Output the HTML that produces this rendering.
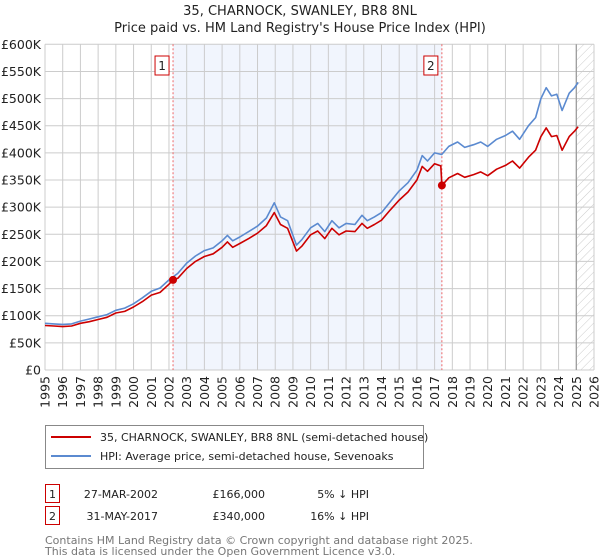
<!DOCTYPE html>
<html><head><meta charset="utf-8">
<style>
body{margin:0;background:#fff;font-family:"Liberation Sans","DejaVu Sans",sans-serif;}
#wrap{position:relative;width:600px;height:560px;overflow:hidden;}
svg text{font-family:"DejaVu Sans","Liberation Sans",sans-serif;}
</style></head>
<body>
<div id="wrap">
<svg id="chart" width="600" height="560"></svg>
</div>
<script>
const years=[1995,1996,1997,1998,1999,2000,2001,2002,2003,2004,2005,2006,2007,2008,2009,2010,2011,2012,2013,2014,2015,2016,2017,2018,2019,2020,2021,2022,2023,2024,2025,2026];
const yTicks=[0,50,100,150,200,250,300,350,400,450,500,550,600];
const yTickLabels=["£0","£50K","£100K","£150K","£200K","£250K","£300K","£350K","£400K","£450K","£500K","£550K","£600K"];
const hpiT=[1995.0,1995.5,1996.0,1996.5,1997.0,1997.5,1998.0,1998.5,1999.0,1999.5,2000.0,2000.5,2001.0,2001.5,2002.0,2002.5,2003.0,2003.5,2004.0,2004.5,2005.0,2005.3,2005.6,2006.0,2006.5,2007.0,2007.5,2007.95,2008.3,2008.7,2009.2,2009.5,2010.0,2010.4,2010.8,2011.2,2011.6,2012.0,2012.5,2012.9,2013.2,2013.6,2014.0,2014.5,2015.0,2015.5,2016.0,2016.3,2016.6,2017.0,2017.4,2017.8,2018.3,2018.7,2019.2,2019.6,2020.0,2020.5,2021.0,2021.4,2021.8,2022.3,2022.7,2023.0,2023.3,2023.6,2023.9,2024.2,2024.6,2024.9,2025.1];
const hpiV=[86,85,84,85,90,94,98,102,110,114,122,133,145,151,166,178,197,210,220,225,238,248,238,245,255,265,280,308,282,275,230,240,262,270,255,275,262,270,268,285,275,282,290,310,330,345,368,395,385,400,397,412,420,410,415,420,412,425,432,440,425,450,465,500,520,505,508,478,510,520,530];
const saleT=[1995.0,1995.5,1996.0,1996.5,1997.0,1997.5,1998.0,1998.5,1999.0,1999.5,2000.0,2000.5,2001.0,2001.5,2002.0,2002.23,2002.5,2003.0,2003.5,2004.0,2004.5,2005.0,2005.3,2005.6,2006.0,2006.5,2007.0,2007.5,2007.95,2008.3,2008.7,2009.2,2009.5,2010.0,2010.4,2010.8,2011.2,2011.6,2012.0,2012.5,2012.9,2013.2,2013.6,2014.0,2014.5,2015.0,2015.5,2016.0,2016.3,2016.6,2017.0,2017.35,2017.41,2017.8,2018.3,2018.7,2019.2,2019.6,2020.0,2020.5,2021.0,2021.4,2021.8,2022.3,2022.7,2023.0,2023.3,2023.6,2023.9,2024.2,2024.6,2024.9,2025.1];
const saleV=[82,81,80,81,86,89,93,97,105,108,116,126,138,143,158,166,169,187,200,209,214,226,236,226,233,242,252,266,290,268,261,219,228,249,256,242,261,249,256,255,270,261,268,276,295,313,328,350,375,366,380,376,340,354,362,355,360,365,358,370,377,385,372,392,405,430,446,430,432,405,430,440,448];
const sales=[{n:"1",t:2002.23,v:166},{n:"2",t:2017.41,v:340}];

const svg=document.getElementById('chart');
const NS="http://www.w3.org/2000/svg";
const X0=45,X1=594,Y0=370,Y1=44.3;
const x=t=>X0+(t-1995)/(2026-1995)*(X1-X0);
const y=v=>Y0-v/600*(Y0-Y1);
function el(tag,attrs,parent){const e=document.createElementNS(NS,tag);for(const k in attrs)e.setAttribute(k,attrs[k]);(parent||svg).appendChild(e);return e;}

// defs hatch
const defs=el('defs',{});
const pat=el('pattern',{id:'hatch',width:6,height:6,patternUnits:'userSpaceOnUse',patternTransform:'rotate(45)'},defs);
el('line',{x1:0,y1:0,x2:0,y2:6,stroke:'#ccc','stroke-width':1},pat);

// title
let t1=el('text',{x:300,y:15,'text-anchor':'middle','font-size':13,fill:'#222'});t1.textContent="35, CHARNOCK, SWANLEY, BR8 8NL";

let t2=el('text',{x:300,y:32,'text-anchor':'middle','font-size':13,fill:'#222'});t2.textContent="Price paid vs. HM Land Registry's House Price Index (HPI)";


// shaded ownership band
let band=el('rect',{x:x(sales[0].t),y:Y1,width:x(sales[1].t)-x(sales[0].t),height:Y0-Y1,fill:'#eef2fc',opacity:0.8});

// hatch future
let hz=el('rect',{x:x(2025),y:Y1,width:X1-x(2025),height:Y0-Y1,fill:'url(#hatch)'});


// grid
const grid=el('g',{});
years.forEach(yr=>el('line',{x1:x(yr),x2:x(yr),y1:Y1,y2:Y0,stroke:'#ccc','stroke-width':1},grid));
yTicks.forEach(v=>el('line',{x1:X0,x2:X1,y1:y(v),y2:y(v),stroke:'#ccc','stroke-width':1},grid));
el('line',{x1:x(2025),x2:x(2025),y1:Y1,y2:Y0,stroke:'#999','stroke-width':1.2});

// y labels
yTicks.forEach((v,i)=>{const tx=el('text',{x:41,y:y(v)+4.5,'text-anchor':'end','font-size':12.5,fill:'#222'});tx.textContent=yTickLabels[i];
});
// x labels
years.forEach(yr=>{const tx=el('text',{x:0,y:0,'text-anchor':'end','font-size':12.5,fill:'#222',transform:`translate(${x(yr)+4.5},376) rotate(-90)`});tx.textContent=yr;
});

// sale vlines
sales.forEach(s=>{const l=el('line',{x1:x(s.t),x2:x(s.t),y1:Y1,y2:Y0,stroke:'#e66','stroke-width':1,'stroke-dasharray':'2,2'});

const g=el('g',{});
el('rect',{x:x(s.t)-18,y:56,width:14,height:19,fill:'#fff',stroke:'#c00','stroke-width':1},g);
const tx=el('text',{x:x(s.t)-11,y:70,'text-anchor':'middle','font-size':12,fill:'#222'},g);tx.textContent=s.n;});

function path(ts,vs,color,name){let d='';ts.forEach((t,i)=>{d+=(i?'L':'M')+x(t).toFixed(1)+','+y(vs[i]).toFixed(1);});
const p=el('path',{d:d,fill:'none',stroke:color,'stroke-width':1.6,'stroke-linejoin':'round'});
}
path(hpiT,hpiV,'#5b8ad0','hpi-line');
path(saleT,saleV,'#cc0000','price-paid-line');
sales.forEach(s=>{const c=el('circle',{cx:x(s.t),cy:y(s.v),r:4,fill:'#cc0000'});
});

// legend
const lg=el('g',{});
el('rect',{x:45.5,y:425.5,width:378,height:43,fill:'#fff',stroke:'#888','stroke-width':1},lg);
el('line',{x1:51,x2:91,y1:437,y2:437,stroke:'#cc0000','stroke-width':2},lg);
el('line',{x1:51,x2:91,y1:456,y2:456,stroke:'#5b8ad0','stroke-width':2},lg);
let l1=el('text',{x:100,y:441,'font-size':11,fill:'#222'},lg);l1.textContent="35, CHARNOCK, SWANLEY, BR8 8NL (semi-detached house)";

let l2=el('text',{x:100,y:460,'font-size':11,fill:'#222'},lg);l2.textContent="HPI: Average price, semi-detached house, Sevenoaks";


// table
const rows=[["1","27-MAR-2002","£166,000","5% ↓ HPI",484],["2","31-MAY-2017","£340,000","16% ↓ HPI",506]];
rows.forEach(r=>{const g=el('g',{});
el('rect',{x:45.5,y:r[4]+0.5,width:14,height:18,fill:'#fff',stroke:'#c00','stroke-width':1},g);
let a=el('text',{x:52.5,y:r[4]+14,'text-anchor':'middle','font-size':11,fill:'#222'},g);a.textContent=r[0];
let b=el('text',{x:158,y:r[4]+14,'text-anchor':'end','font-size':11,fill:'#222'},g);b.textContent=r[1];
let c=el('text',{x:265,y:r[4]+14,'text-anchor':'end','font-size':11,fill:'#222'},g);c.textContent=r[2];
let d=el('text',{x:369,y:r[4]+14,'text-anchor':'end','font-size':11,fill:'#222'},g);d.textContent=r[3];});

let f1=el('text',{x:45,y:544,'font-size':11,fill:'#777'});f1.textContent="Contains HM Land Registry data © Crown copyright and database right 2025.";

let f2=el('text',{x:45,y:555,'font-size':11,fill:'#777'});f2.textContent="This data is licensed under the Open Government Licence v3.0.";

</script>
</body></html>
